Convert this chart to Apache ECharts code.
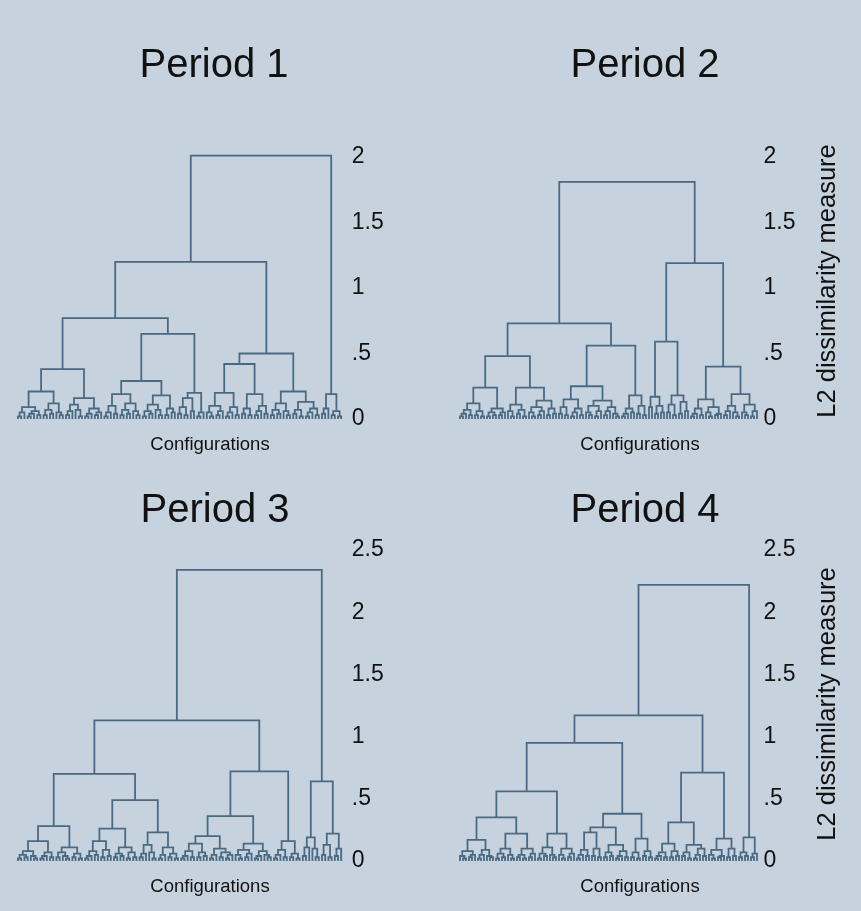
<!DOCTYPE html>
<html><head><meta charset="utf-8">
<script src="https://cdn.jsdelivr.net/npm/echarts@6/dist/echarts.min.js"></script>
<style>html,body{margin:0;padding:0;background:#c6d3df;}#c{width:861px;height:911px;}</style>
</head><body><div id="c"></div>
<script>
// ---- Data: dendrogram trees, node = [mergeHeight, left, right], leaf = 0 ----
const panelTitles = ['Period 1', 'Period 2', 'Period 3', 'Period 4'];
const xAxisTitle = 'Configurations';
const yAxisTitle = 'L2 dissimilarity measure';
const yTicksTop = [0, 0.5, 1, 1.5, 2];
const yTicksBottom = [0, 0.5, 1, 1.5, 2, 2.5];

const period1 = [2.01,
  [1.2,
    [0.77,
      [0.38,
        [0.21, [0.09, [0.05,[0.02,0,0],0], [0.06,[0.04,[0.02,0,0],0],[0.03,0,0]]],
               [0.12, [0.07,[0.03,0,0],[0.04,0,0]], [0.05,0,[0.03,0,0]]]],
        [0.16, [0.11, [0.06,[0.03,0,0],0], [0.07,0,[0.02,0,0]]],
               [0.08, [0.04,[0.02,0,0],0], [0.05,[0.03,0,0],0]]]],
      [0.65,
        [0.29, [0.19, [0.1,[0.05,[0.02,0,0],0],[0.04,0,0]], [0.12,[0.07,[0.03,0,0],[0.04,0,0]],[0.06,0,[0.03,0,0]]]],
               [0.18, [0.11,[0.06,[0.02,0,0],[0.04,0,0]],[0.07,0,[0.03,0,0]]], [0.08,[0.03,0,0],[0.05,0,0]]]],
        [0.2, [0.16, [0.09,[0.04,0,0],[0.03,0,0]], [0.06,0,0]], [0.05,[0.02,0,0],0]]]],
    [0.5,
      [0.42, [0.2, [0.1,[0.05,0,[0.02,0,0]],[0.06,[0.03,0,0],0]], [0.09,[0.05,[0.02,0,0],0],[0.03,0,0]]],
             [0.19, [0.08,[0.04,0,0],[0.03,0,0]], [0.1,[0.06,[0.03,0,0],0],[0.04,0,0]]]],
      [0.21, [0.12, [0.07,[0.03,0,0],[0.04,0,0]], [0.06,0,[0.03,0,0]]],
             [0.13, [0.07,[0.04,0,0],[0.02,0,0]], [0.08,[0.05,[0.02,0,0],0],[0.03,0,0]]]]]],
  [0.19, [0.08,[0.04,0,0],0], [0.06,[0.03,0,0],[0.02,0,0]]]
];

const period2 = [1.81,
  [0.73,
    [0.48,
      [0.24, [0.12, [0.07,[0.04,[0.02,0,0],0],[0.03,0,0]], [0.06,[0.03,0,0],[0.02,0,0]]],
             [0.08, [0.05,[0.02,0,0],[0.03,0,0]], [0.05,[0.03,0,0],0]]],
      [0.24, [0.11, [0.06,0,[0.02,0,0]], [0.07,[0.04,0,0],[0.02,0,0]]],
             [0.14, [0.09,[0.05,0,[0.02,0,0]],[0.06,[0.03,0,0],0]], [0.08,[0.03,0,0],[0.04,0,0]]]]],
    [0.56,
      [0.25, [0.15, [0.09,[0.04,0,0],[0.03,0,0]], [0.08,[0.05,[0.02,0,0],0],[0.03,0,0]]],
             [0.14, [0.1,[0.05,0,[0.03,0,0]],[0.06,[0.02,0,0],0]], [0.09,[0.06,[0.03,0,0],0],[0.04,0,[0.02,0,0]]]]],
      [0.18, [0.08,[0.04,[0.02,0,0],0],[0.05,0,0]], [0.1,[0.04,0,0],[0.03,0,0]]]]],
  [1.19,
    [0.59,
      [0.17, [0.09,0,0], [0.1,[0.04,0,0],[0.05,0,0]]],
      [0.18, [0.11,[0.05,0,0],[0.03,0,0]], [0.13,[0.04,0,0],[0.06,0,0]]]],
    [0.40,
      [0.15, [0.08,[0.04,[0.02,0,0],0],[0.03,0,0]], [0.09,[0.05,0,[0.02,0,0]],[0.04,[0.03,0,0],0]]],
      [0.19, [0.1,[0.06,[0.03,0,0],0],[0.05,0,[0.02,0,0]]], [0.11,[0.05,0,[0.03,0,0]],[0.06,[0.02,0,0],0]]]]]
];

const period3 = [2.34,
  [1.13,
    [0.70,
      [0.28, [0.16, [0.08,[0.05,[0.02,0,0],[0.03,0,0]],[0.04,0,[0.02,0,0]]], [0.07,[0.04,[0.02,0,0],0],[0.03,0,0]]],
             [0.11, [0.07,[0.03,0,0],[0.04,0,[0.02,0,0]]], [0.06,[0.03,0,0],[0.02,0,0]]]],
      [0.49,
        [0.26, [0.16, [0.08,[0.04,[0.02,0,0],0],[0.05,0,0]], [0.09,[0.03,0,0],[0.04,0,0]]],
               [0.11, [0.06,[0.03,0,0],[0.04,0,0]], [0.07,[0.02,0,0],[0.03,0,0]]]],
        [0.23, [0.13, [0.06,[0.03,0,0],0], [0.07,0,[0.02,0,0]]],
               [0.11, [0.05,[0.02,0,0],0], [0.06,[0.03,0,0],[0.02,0,0]]]]]],
    [0.72,
      [0.36,
        [0.2, [0.14, [0.08,[0.04,[0.02,0,0],0],[0.03,0,0]], [0.07,[0.03,0,0],[0.04,0,0]]],
              [0.1, [0.05,[0.02,0,0],0], [0.07,[0.03,0,0],[0.05,[0.02,0,0],0]]]],
        [0.14, [0.09,[0.05,0,[0.02,0,0]],[0.06,[0.03,0,0],0]], [0.08,[0.04,[0.02,0,0],0],[0.05,0,[0.03,0,0]]]]],
      [0.16, [0.09,[0.05,[0.02,0,0],0],[0.03,0,0]], [0.06,[0.03,0,0],[0.02,0,0]]]]],
  [0.64,
    [0.19, [0.11,[0.04,0,0],0], [0.1,0,[0.03,0,0]]],
    [0.22, [0.13,[0.05,0,0],[0.03,0,0]], [0.1,[0.04,0,0],0]]]
];

const period4 = [2.22,
  [1.17,
    [0.95,
      [0.56,
        [0.35, [0.17, [0.08,[0.04,0,[0.02,0,0]],[0.05,[0.03,0,0],0]], [0.09,[0.05,[0.02,0,0],0],[0.04,0,[0.03,0,0]]]],
               [0.22, [0.1,[0.06,[0.02,0,0],[0.03,0,0]],[0.05,0,[0.02,0,0]]], [0.1,[0.05,[0.03,0,0],[0.02,0,0]],[0.06,[0.03,0,0],0]]]],
        [0.22, [0.11,[0.06,[0.02,0,0],[0.04,0,0]],[0.05,0,[0.03,0,0]]], [0.1,[0.05,0,[0.02,0,0]],[0.06,[0.03,0,0],0]]]],
      [0.38,
        [0.27, [0.23, [0.09,[0.05,[0.02,0,0],0],[0.04,0,0]], [0.1,[0.04,0,0],[0.03,0,0]]],
               [0.13, [0.07,[0.03,0,0],[0.04,0,0]], [0.08,[0.04,[0.02,0,0],0],[0.03,0,0]]]],
        [0.18, [0.07,[0.03,0,0],[0.02,0,0]], [0.08,[0.04,0,0],[0.03,0,0]]]]],
    [0.71,
      [0.31, [0.14, [0.07,[0.04,[0.02,0,0],0],[0.03,0,0]], [0.08,[0.03,0,0],[0.04,0,0]]],
             [0.13, [0.07,[0.04,0,0],[0.02,0,0]], [0.1,[0.05,[0.02,0,0],0],[0.04,0,0]]]],
      [0.18, [0.09,[0.05,0,[0.02,0,0]],[0.04,[0.03,0,0],0]], [0.1,[0.03,0,0],[0.04,0,0]]]]],
  [0.19, [0.07,[0.03,0,0],[0.04,0,0]], [0.06,[0.03,0,0],0]]
];

const trees = [period1, period2, period3, period4];
const yMaxes = [2, 2, 2.5, 2.5];
const yTickSets = [yTicksTop, yTicksTop, yTicksBottom, yTicksBottom];

// ---- Layout (positions/sizes) ----
const LINE = '#4a6a83';
const TEXT = '#111111';
const FONT = 'Liberation Sans, Arial, sans-serif';
const gridBoxes = [
  {left: 16.4, top: 157, width: 326.4, height: 262},
  {left: 458.5, top: 157, width: 300, height: 262},
  {left: 16.4, top: 550, width: 326.4, height: 311},
  {left: 458.5, top: 550, width: 300, height: 311}
];
const titlePos = [[209, 61], [640, 61], [210, 506], [640, 506]];
const xTitlePos = [[205, 440], [635, 440], [205, 882], [635, 882]];
const yTitlePos = [[828, 281], [828, 704]];

function buildSegments(tree) {
  const segs = [];
  let idx = 0;
  function walk(node) {
    if (!Array.isArray(node)) { const x = idx++; return {x: x, h: 0}; }
    const l = walk(node[1]);
    const r = walk(node[2]);
    segs.push([l.x, r.x, node[0], l.h, r.h]);
    return {x: (l.x + r.x) / 2, h: node[0]};
  }
  walk(tree);
  return {segs: segs, n: idx};
}

function fmt(v) {
  if (v === 0) return '0';
  const s = String(v);
  return s.startsWith('0.') ? s.slice(1) : s;
}

const grids = [], xAxes = [], yAxes = [], series = [];
trees.forEach(function (tree, k) {
  const b = buildSegments(tree);
  grids.push(gridBoxes[k]);
  xAxes.push({
    gridIndex: k, type: 'value', min: -0.5, max: b.n - 0.5,
    axisLine: {show: false}, axisTick: {show: false}, axisLabel: {show: false}, splitLine: {show: false}
  });
  const rightSide = (k % 2 === 1);
  yAxes.push({
    gridIndex: k, type: 'value', position: 'right', min: 0, max: yMaxes[k], interval: 0.5,
    axisLine: {show: false}, axisTick: {show: false}, splitLine: {show: false},
    axisLabel: {margin: rightSide ? 5 : 9, fontFamily: FONT, fontSize: 23, color: TEXT, padding: [5, 0, 0, 0],
      formatter: function (v) { return yTickSets[k].indexOf(v) >= 0 ? fmt(v) : ''; }}
  });
  series.push({
    type: 'custom', xAxisIndex: k, yAxisIndex: k, clip: false, silent: true,
    encode: {x: [0, 1], y: [2, 3, 4]},
    data: b.segs,
    renderItem: function (params, api) {
      const p1 = api.coord([api.value(0), api.value(3)]);
      const p2 = api.coord([api.value(0), api.value(2)]);
      const p3 = api.coord([api.value(1), api.value(2)]);
      const p4 = api.coord([api.value(1), api.value(4)]);
      return {type: 'polyline', shape: {points: [p1, p2, p3, p4]},
        style: {stroke: LINE, lineWidth: 1.8, fill: null}};
    }
  });
});

const titles = [];
panelTitles.forEach(function (t, k) {
  titles.push({text: t, left: titlePos[k][0], top: titlePos[k][1], textAlign: 'center', textVerticalAlign: 'middle',
    textStyle: {fontFamily: FONT, fontSize: 40, fontWeight: 'normal', color: TEXT}});
  titles.push({text: xAxisTitle, left: xTitlePos[k][0], top: xTitlePos[k][1], textAlign: 'center', textVerticalAlign: 'middle',
    textStyle: {fontFamily: FONT, fontSize: 18.5, fontWeight: 'normal', color: TEXT}});
});

const graphics = yTitlePos.map(function (p) {
  return {type: 'text', x: p[0], y: p[1], rotation: Math.PI / 2, silent: true,
    style: {text: yAxisTitle, font: '25.5px ' + FONT, fill: TEXT, align: 'center', verticalAlign: 'middle'}};
});

const chart = echarts.init(document.getElementById('c'), null, {renderer: 'canvas'});
chart.setOption({
  backgroundColor: '#c6d3df',
  animation: false,
  title: titles,
  graphic: graphics,
  grid: grids, xAxis: xAxes, yAxis: yAxes, series: series
});
</script></body></html>
